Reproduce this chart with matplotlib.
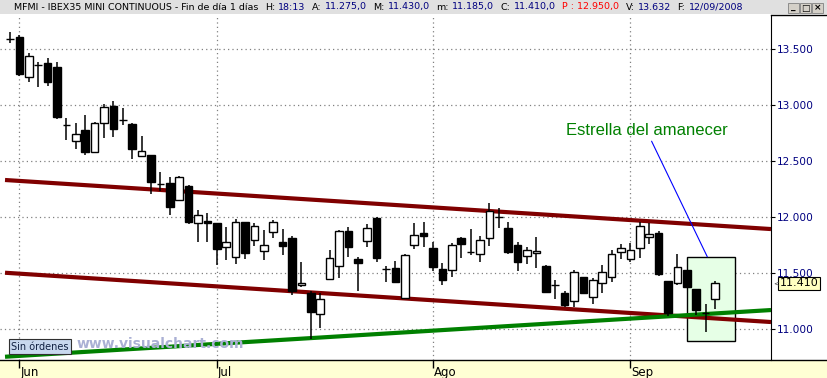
import matplotlib
matplotlib.use('Agg')
import matplotlib.pyplot as plt
import matplotlib.transforms as mtransforms
from matplotlib.patches import Rectangle
import numpy as np
import pandas as pd

# sesiones diarias del MFMI (30/05/2008 - 12/09/2008)
fechas = pd.bdate_range('2008-05-30', '2008-09-12')

apertura = [13592, 13607, 13250, 13363, 13375, 13339, 12827, 12678, 12777, 12586,
            12839, 12994, 12866, 12833, 12544, 12556, 12300, 12303, 12152, 12277,
            11946, 11967, 11949, 11732, 11643, 11955, 11795, 11696, 11866, 11777,
            11815, 11399, 11321, 11134, 11446, 11562, 11878, 11625, 11786, 11991,
            11542, 11545, 11277, 11750, 11860, 11723, 11536, 11527, 11812, 11693,
            11670, 11812, 12000, 11902, 11753, 11652, 11679, 11562, 11396, 11321,
            11250, 11467, 11286, 11411, 11464, 11693, 11625, 11723, 11821, 11857,
            11432, 11411, 11530, 11357, 11149, 11275]
maximo = [13657, 13628, 13464, 13390, 13422, 13387, 12884, 12839, 12913, 12848,
          13009, 13038, 12976, 12839, 12726, 12556, 12405, 12357, 12366, 12286,
          12062, 12036, 11949, 11911, 11985, 11955, 11949, 11887, 11973, 11896,
          11833, 11598, 11345, 11327, 11708, 11887, 11911, 11643, 11940, 12000,
          11565, 11610, 11673, 11949, 11958, 11777, 11589, 11768, 11821, 11893,
          11833, 12128, 12080, 11958, 11780, 11735, 11824, 11574, 11440, 11339,
          11530, 11467, 11461, 11574, 11708, 11759, 11768, 11955, 11952, 11875,
          11432, 11673, 11530, 11357, 11226, 11430]
minimo = [13553, 13265, 13211, 13166, 13172, 12881, 12690, 12610, 12556, 12586,
          12711, 12720, 12824, 12524, 12544, 12211, 12238, 12024, 12152, 11940,
          11783, 11783, 11577, 11619, 11580, 11631, 11747, 11619, 11818, 11664,
          11309, 11381, 10914, 11015, 11446, 11455, 11649, 11345, 11738, 11604,
          11426, 11426, 11271, 11720, 11738, 11521, 11399, 11470, 11640, 11667,
          11604, 11747, 11908, 11676, 11524, 11580, 11551, 11327, 11268, 11202,
          11202, 11327, 11229, 11327, 11426, 11628, 11598, 11640, 11765, 11479,
          11122, 11399, 11381, 11131, 10979, 11185]
cierre = [13592, 13282, 13437, 13363, 13211, 12899, 12827, 12741, 12586, 12839,
          12982, 12791, 12866, 12613, 12592, 12318, 12300, 12095, 12357, 11961,
          12018, 11946, 11714, 11777, 11955, 11684, 11920, 11750, 11958, 11741,
          11345, 11417, 11158, 11268, 11634, 11875, 11738, 11589, 11908, 11634,
          11542, 11426, 11661, 11839, 11836, 11560, 11438, 11750, 11765, 11693,
          11795, 12054, 12000, 11693, 11604, 11705, 11699, 11336, 11396, 11220,
          11512, 11327, 11440, 11509, 11673, 11723, 11705, 11920, 11848, 11497,
          11149, 11553, 11381, 11176, 11149, 11410]

niveles = [11000, 11500, 12000, 12500, 13000, 13500]
meses = ['Jun', 'Jul', 'Ago', 'Sep']

# lineas del canal y soporte (valores en los extremos)
tendencia_x = [-0.53, 80.96]
canal_superior = [12333, 11895]
canal_inferior = [11505, 11065]
soporte = [10755, 11172]

# recuadro de la estrella del amanecer
recuadro_x = [72.05, 77.1]
recuadro_y = [10898, 11643]
nota_texto = (67.77, 12771)
nota_punta = (74.18, 11648)

# cabecera: (etiqueta, valor, color del valor)
titulo = 'MFMI - IBEX35 MINI CONTINUOUS - Fin de día 1 días'
campos = [('H:', '18:13', '#000080'), ('A:', '11.275,0', '#000080'),
          ('M:', '11.430,0', '#000080'), ('m:', '11.185,0', '#000080'),
          ('C:', '11.410,0', '#000080'), ('', 'P : 12.950,0', '#ff0000'),
          ('V:', '13.632', '#000080'), ('F:', '12/09/2008', '#000080')]

W, H = 828, 378
fig = plt.figure(figsize=(W / 100, H / 100), dpi=100)
fig.patch.set_facecolor('white')

# cabecera gris
fig.patches.append(Rectangle((0, 1 - 14 / H), 1, 14 / H, transform=fig.transFigure,
                             facecolor='#e0e0e0', edgecolor='none', zorder=-2))
# banda inferior amarilla
fig.patches.append(Rectangle((0, 0), 1, 18 / H, transform=fig.transFigure,
                             facecolor='#ffffd4', edgecolor='none', zorder=-2))
fig.lines.append(plt.Line2D([0, 1], [18 / H, 18 / H], transform=fig.transFigure,
                            color='black', lw=1, zorder=-1))
fig.lines.append(plt.Line2D([771 / W, 1], [1 - 15 / H, 1 - 15 / H], transform=fig.transFigure,
                            color='black', lw=1, zorder=-1))

ax = fig.add_axes([0, 18 / H, 771 / W, 345 / H])
ax.set_facecolor('none')
ax.set_xlim(-1.064, 80.96)
ax.set_ylim(10726, 13806)
for s in ['top', 'left', 'bottom']:
    ax.spines[s].set_visible(False)
ax.spines['right'].set_color('black')

x = np.arange(len(fechas))
o = np.array(apertura)
c = np.array(cierre)

# recuadro
ax.add_patch(Rectangle((recuadro_x[0], recuadro_y[0]), recuadro_x[1] - recuadro_x[0],
                       recuadro_y[1] - recuadro_y[0], facecolor='#e6ffe6',
                       edgecolor='black', lw=1, zorder=1))

# canal
ax.plot(tendencia_x, canal_superior, color='#800000', lw=3, solid_capstyle='butt', zorder=2)
ax.plot(tendencia_x, canal_inferior, color='#800000', lw=3, solid_capstyle='butt', zorder=2)
ax.plot(tendencia_x, soporte, color='#008000', lw=3, solid_capstyle='butt', zorder=2)

# velas
relleno = ['white' if ci > oi else 'black' for oi, ci in zip(o, c)]
ax.vlines(x, minimo, maximo, color='black', lw=1.1, zorder=3)
ax.bar(x, np.abs(c - o), bottom=np.minimum(o, c), width=0.82, color=relleno,
       edgecolor='black', lw=1, zorder=4)

# anotacion
ax.annotate('Estrella del amanecer', xy=nota_punta, xytext=nota_texto,
            color='#008000', fontsize=12, family=['Liberation Sans', 'DejaVu Sans'],
            ha='center', va='center', zorder=5,
            arrowprops=dict(arrowstyle='-', color='#0000ff', lw=0.8,
                            relpos=(0.52, 0.0), shrinkA=0, shrinkB=0))

# eje x: meses
cambio_mes = [i for i in range(1, len(fechas)) if fechas[i].month != fechas[i - 1].month]
xa = mtransforms.blended_transform_factory(ax.transData, ax.transAxes)
ax.set_xticks(cambio_mes)
ax.set_xticklabels([])
ax.tick_params(axis='x', length=6, width=1, color='black')
for i, mes in zip(cambio_mes, meses):
    ax.text(i + 0.12, -16 / 345, mes, transform=xa, fontsize=8.5, ha='left',
            va='baseline', clip_on=False)

# eje y a la derecha
ax.yaxis.tick_right()
ax.set_yticks(niveles)
ax.set_yticklabels([f'{v:,}'.replace(',', '.') for v in niveles], fontsize=7.6,
                   color='#000080')
ax.tick_params(axis='y', length=3, width=0.8, pad=1.5)
ax.grid(True, linestyle=(0, (1, 2.5)), color='#808080', lw=0.9)
ax.set_axisbelow(True)

# precio actual
yx = mtransforms.blended_transform_factory(ax.transAxes, ax.transData)
ax.text(779.5 / 771, cierre[-1], f'{cierre[-1]:,}'.replace(',', '.'), transform=yx,
        fontsize=8, va='center', ha='left', zorder=6,
        bbox=dict(boxstyle='square,pad=0.15', fc='#ffffc0', ec='black', lw=0.8))
ax.text(773.5 / 771, cierre[-1], '<', transform=yx, fontsize=5, va='center',
        ha='left', color='#404040', zorder=6)

# cabecera, colocada pieza a pieza
renderer = fig.canvas.get_renderer()
ty = 1 - 7 / H
t0 = fig.text(14 / W, ty, titulo, fontsize=6.8, color='black', va='center', ha='left')
piezas = []
for etiqueta, valor, col in campos:
    grupo = []
    if etiqueta:
        grupo.append(fig.text(0, ty, etiqueta, fontsize=6.8, color='black', va='center'))
    grupo.append(fig.text(0, ty, valor, fontsize=6.8, color=col, va='center'))
    piezas.append(grupo)
ancho = lambda t: t.get_window_extent(renderer).width
fin_titulo = 14 + ancho(t0)
total = sum(ancho(t) for g in piezas for t in g) + sum(3 * (len(g) - 1) for g in piezas)
hueco = (743 - fin_titulo - total) / len(piezas)
pos = fin_titulo
for g in piezas:
    pos += hueco
    for k, t in enumerate(g):
        if k:
            pos += 3
        t.set_x(pos / W)
        pos += ancho(t)

# botones de ventana
for bx, glifo in zip([788, 800, 812], ['_', '□', '×']):
    fig.patches.append(Rectangle((bx / W, 1 - 13 / H), 11 / W, 10 / H,
                                 transform=fig.transFigure, facecolor='#d4d0c8',
                                 edgecolor='#808080', lw=0.6, zorder=-1))
    fig.text((bx + 5.5) / W, 1 - 8 / H, glifo, fontsize=6.5, ha='center',
             va='center', fontweight='bold')

# marcas inferiores
fig.text(160 / W, 1 - 344 / H, 'www.visualchart.com', fontsize=10, fontweight='bold',
         color='#aab0d4', ha='center', va='center')
fig.text(40 / W, 1 - 346.5 / H, 'Sin órdenes', fontsize=7, color='#102040',
         ha='center', va='center',
         bbox=dict(boxstyle='square,pad=0.25', fc='#c8d8ee', ec='#303030', lw=0.8))

fig.savefig('out.png', dpi=100)
